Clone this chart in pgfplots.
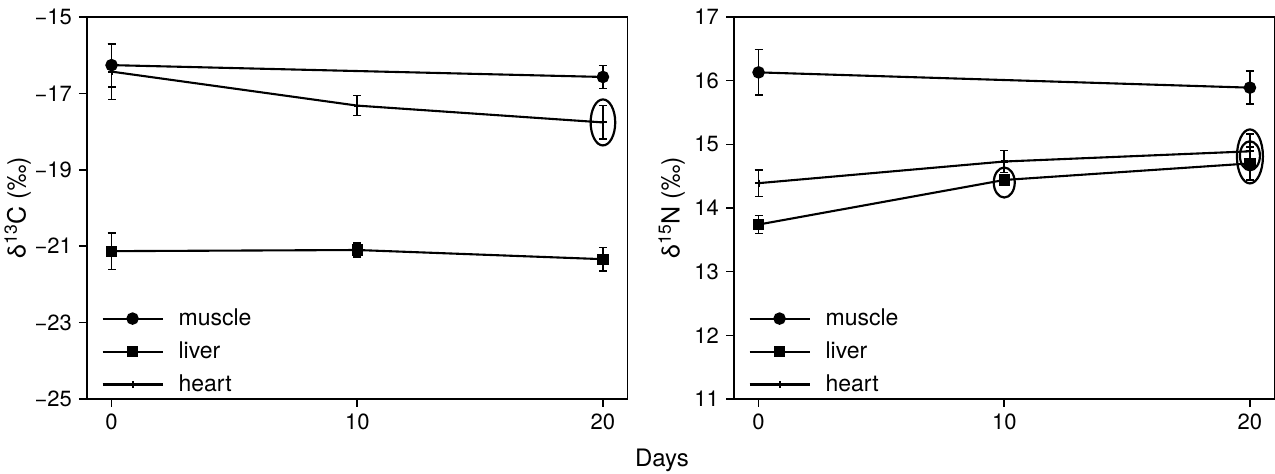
\documentclass[border=0pt]{standalone}
\usepackage{fontspec}
\setmainfont{TeX Gyre Heros}
\usepackage{pgfplots}
\usepackage{pgfplotstable}
\pgfplotsset{compat=1.18}

\pgfplotstableread{
x y e
0 -16.26 0.57
20 -16.57 0.30
}\LmuscleT
\pgfplotstableread{
x y e
0 -21.13 0.48
10 -21.10 0.19
20 -21.34 0.31
}\LliverT
\pgfplotstableread{
x y e
0 -16.43 0.73
10 -17.32 0.26
20 -17.76 0.44
}\LheartT
\pgfplotstableread{
x y e
0 16.13 0.36
20 15.89 0.26
}\RmuscleT
\pgfplotstableread{
x y e
0 13.74 0.14
10 14.44 0.08
20 14.70 0.26
}\RliverT
\pgfplotstableread{
x y e
0 14.39 0.21
10 14.73 0.17
20 14.89 0.27
}\RheartT

\pgfplotsset{
  myaxis/.style={
    scale only axis,
    width=270.25pt, height=191pt,
    xmin=-1, xmax=21,
    xtick={0,10,20},
    xticklabels={0,10,20},
    tick align=outside,
    major tick length=4pt,
    xtick pos=bottom, ytick pos=left,
    axis line style={line width=0.8pt},
    every tick/.style={line width=0.8pt, black},
    tick label style={font=\fontsize{11}{13}\selectfont},
    label style={font=\fontsize{12.5}{14}\selectfont},
    legend style={draw=none, fill=none, at={(axis description cs:0.015,-0.01)}, anchor=south west,
      font=\fontsize{11.5}{13}\selectfont, row sep=2.6pt, column sep=5.5pt},
    legend cell align=left,
    legend image code/.code={\draw[mark repeat=2,mark phase=2,##1] plot coordinates {(0pt,0pt) (15pt,0pt) (30pt,0pt)};},
    error bars/y dir=both, error bars/y explicit,
    error bars/error bar style={line width=0.8pt},
    error bars/error mark options={line width=0.8pt, mark size=2pt, rotate=90},
  },
  muscle/.style={black, line width=1.05pt, mark=*, mark size=2.6pt},
  liver/.style={black, line width=1.05pt, mark=square*, mark size=2.3pt},
  heart/.style={black, line width=1.05pt, mark=+, mark size=1.8pt},
}

\begin{document}
\begin{tikzpicture}
\path[use as bounding box] (-43.5pt,-37.5pt) rectangle (594pt,199.5pt);
\begin{axis}[myaxis, at={(0pt,0pt)}, anchor=south west,
  ymin=-25, ymax=-15,
  ytick={-25,-23,-21,-19,-17,-15},
  yticklabels={−25,−23,−21,−19,−17,−15},
  ylabel={δ\textsuperscript{13}C (‰)},
  ylabel style={at={(axis description cs:0,0.5)}, anchor=south, yshift=24.5pt}]
\addplot[muscle] table[x=x,y=y,y error=e] {\LmuscleT};
\addlegendentry{muscle}
\addplot[liver] table[x=x,y=y,y error=e] {\LliverT};
\addlegendentry{liver}
\addplot[heart] table[x=x,y=y,y error=e] {\LheartT};
\addlegendentry{heart}
\draw[line width=1.1pt] (axis cs:20,-17.76) ellipse [x radius=6.15pt, y radius=11.5pt];
\end{axis}
\begin{axis}[myaxis, at={(323.5pt,0pt)}, anchor=south west,
  ymin=11, ymax=17,
  ytick={11,12,13,14,15,16,17},
  yticklabels={11,12,13,14,15,16,17},
  ylabel={δ\textsuperscript{15}N (‰)},
  ylabel style={at={(axis description cs:0,0.5)}, anchor=south, yshift=21pt}]
\addplot[muscle] table[x=x,y=y,y error=e] {\RmuscleT};
\addlegendentry{muscle}
\addplot[liver] table[x=x,y=y,y error=e] {\RliverT};
\addlegendentry{liver}
\addplot[heart] table[x=x,y=y,y error=e] {\RheartT};
\addlegendentry{heart}
\draw[line width=1.1pt] (axis cs:10,14.40) ellipse [x radius=5.25pt, y radius=7.5pt];
\draw[line width=1.1pt] (axis cs:20,14.81) ellipse [x radius=6.5pt, y radius=13.5pt];
\draw[line width=1.1pt] (axis cs:20,14.82) ellipse [x radius=5pt, y radius=7.25pt];
\end{axis}
\node[font=\fontsize{12}{14}\selectfont] at (287.5pt,-30.5pt) {Days};
\end{tikzpicture}
\end{document}
